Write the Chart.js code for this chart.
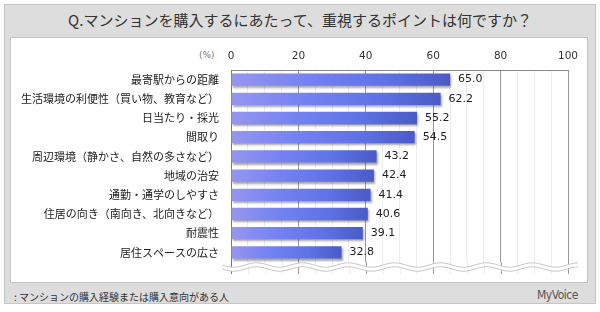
<!DOCTYPE html>
<html>
<head>
<meta charset="utf-8">
<script src="https://cdn.jsdelivr.net/npm/chart.js@4.4.0/dist/chart.umd.min.js"></script>
<style>
body { margin: 0; background: #fff; }
#frame { position: absolute; left: 4px; top: 4px; width: 590px; height: 298px; background: #dddddd; border: 1px solid #c6c6c6; }
#panel { position: absolute; left: 10px; top: 37px; width: 576px; height: 244px; background: #fff; border: 1px solid #c4c4c4; }
#title { position: absolute; left: 0; top: 9px; width: 600px; text-align: center; font: 15px "Noto Sans CJK JP"; color: #333; }
#note { position: absolute; left: 14px; top: 289px; font: 10px "Noto Sans CJK JP"; color: #333; }
#logo { position: absolute; left: 537px; top: 288px; font: 12px "DejaVu Sans Condensed"; color: #555; letter-spacing: -0.5px; }
#pct { position: absolute; left: 199px; top: 50px; font: 9px "DejaVu Sans"; color: #777; }
#wrap { position: absolute; left: 0; top: 0; width: 600px; height: 312px; }
</style>
</head>
<body>
<div id="frame"></div>
<div id="panel"></div>
<div id="title">Q.マンションを購入するにあたって、重視するポイントは何ですか？</div>
<div id="pct">(%)</div>
<div id="note">: マンションの購入経験または購入意向がある人</div>
<div id="logo">MyVoice</div>
<div id="wrap"><canvas id="myChart" width="600" height="312"></canvas></div>
<script>
var categorie = [
    '最寄駅からの距離',
    '生活環境の利便性（買い物、教育など）',
    '日当たり・採光',
    '間取り',
    '周辺環境（静かさ、自然の多さなど）',
    '地域の治安',
    '通勤・通学のしやすさ',
    '住居の向き（南向き、北向きなど）',
    '耐震性',
    '居住スペースの広さ'
];
var valori = [65.0, 62.2, 55.2, 54.5, 43.2, 42.4, 41.4, 40.6, 39.1, 32.8];
var tickEtichette = [0, 20, 40, 60, 80, 100];

// gradiente per ogni barra, da chiaro a scuro
function coloreBarra(c) {
    var chart = c.chart;
    if (!chart.chartArea || c.raw == undefined) return '#6c7ef0';
    var x0 = chart.scales.x.getPixelForValue(0);
    var x1 = chart.scales.x.getPixelForValue(c.raw);
    var g = chart.ctx.createLinearGradient(x0, 0, x1, 0);
    g.addColorStop(0, '#9696ee');
    g.addColorStop(0.35, '#7482f2');
    g.addColorStop(0.7, '#5f72e6');
    g.addColorStop(1, '#4a5bc6');
    return g;
}

const ombra = {
    id: 'ombra',
    beforeDatasetsDraw(chart) {
        var ctx = chart.ctx;
        ctx.save();
        ctx.shadowColor = 'rgba(60,60,60,0.45)';
        ctx.shadowOffsetX = 1;
        ctx.shadowOffsetY = 2;
        ctx.shadowBlur = 2;
    },
    afterDatasetsDraw(chart) {
        var ctx = chart.ctx;
        ctx.restore();
        // valori a destra delle barre
        var meta = chart.getDatasetMeta(0);
        ctx.save();
        ctx.font = '11px "DejaVu Sans"';
        ctx.fillStyle = '#222';
        ctx.textBaseline = 'middle';
        ctx.textAlign = 'left';
        for (var i = 0; i < meta.data.length; i++) {
            var bar = meta.data[i];
            ctx.fillText(valori[i].toFixed(1), bar.x + 8, bar.y);
        }
        ctx.restore();
    },
    afterDraw(chart) {
        var ctx = chart.ctx;
        var area = chart.chartArea;
        var xs = chart.scales.x;
        ctx.save();
        // prolungamento della griglia sotto l'area
        for (var v = 0; v <= 100; v += 5) {
            var x = Math.round(xs.getPixelForValue(v)) + 0.5;
            ctx.strokeStyle = v == 0 ? '#777' : (v % 20 == 0 ? '#9a9a9a' : '#ececec');
            ctx.lineWidth = 1;
            ctx.beginPath();
            ctx.moveTo(x, area.bottom);
            ctx.lineTo(x, area.bottom + 12);
            ctx.stroke();
        }
        // onda di interruzione
        var yc = area.bottom + 5;
        var x0 = area.left - 9, x1 = area.right + 10;
        function onda(off) {
            ctx.beginPath();
            for (var x = x0; x <= x1; x++) {
                var y = yc + off + 2.2 * Math.sin((x - x0) / 46 * 2 * Math.PI);
                if (x == x0) ctx.moveTo(x, y); else ctx.lineTo(x, y);
            }
        }
        ctx.beginPath();
        for (var x = x0; x <= x1; x++) {
            var y = yc - 2 + 2.2 * Math.sin((x - x0) / 46 * 2 * Math.PI);
            if (x == x0) ctx.moveTo(x, y); else ctx.lineTo(x, y);
        }
        for (var x = x1; x >= x0; x--) {
            var y = yc + 2 + 2.2 * Math.sin((x - x0) / 46 * 2 * Math.PI);
            ctx.lineTo(x, y);
        }
        ctx.closePath();
        ctx.fillStyle = '#fff';
        ctx.fill();
        ctx.strokeStyle = '#c8c8c8';
        onda(-2); ctx.stroke();
        onda(2); ctx.stroke();
        ctx.restore();
    }
};

const ctx = document.getElementById('myChart').getContext('2d');
const myChart = new Chart(ctx, {
    type: 'bar',
    data: {
        labels: categorie,
        datasets: [{
            data: valori,
            backgroundColor: coloreBarra,
            borderWidth: 0,
            barPercentage: 0.64,
            categoryPercentage: 1
        }]
    },
    options: {
        indexAxis: 'y',
        responsive: false,
        animation: false,
        layout: { padding: { left: 0, right: 32, top: 0, bottom: 50 } },
        plugins: {
            legend: { display: false },
            tooltip: { enabled: false }
        },
        scales: {
            x: {
                position: 'top',
                min: 0,
                max: 100,
                ticks: {
                    stepSize: 5,
                    autoSkip: false,
                    maxRotation: 0,
                    padding: 7,
                    color: '#333',
                    font: { family: 'DejaVu Sans', size: 10.5 },
                    callback: function (v) { return tickEtichette.indexOf(v) >= 0 ? String(v) : ''; }
                },
                grid: {
                    drawTicks: false,
                    color: function (c) {
                        var v = c.tick ? c.tick.value : 0;
                        if (v == 0) return '#777';
                        return v % 20 == 0 ? '#9a9a9a' : '#ececec';
                    }
                },
                border: { color: '#8a8a8a' },
                afterFit: function (scale) { scale.height = 70; }
            },
            y: {
                ticks: {
                    padding: 12,
                    color: '#222',
                    font: { family: 'Noto Sans CJK JP', size: 11 }
                },
                grid: { display: false, drawTicks: false },
                border: { color: '#777' },
                afterFit: function (scale) { scale.width = 231; }
            }
        }
    },
    plugins: [ombra]
});
</script>
</body>
</html>
